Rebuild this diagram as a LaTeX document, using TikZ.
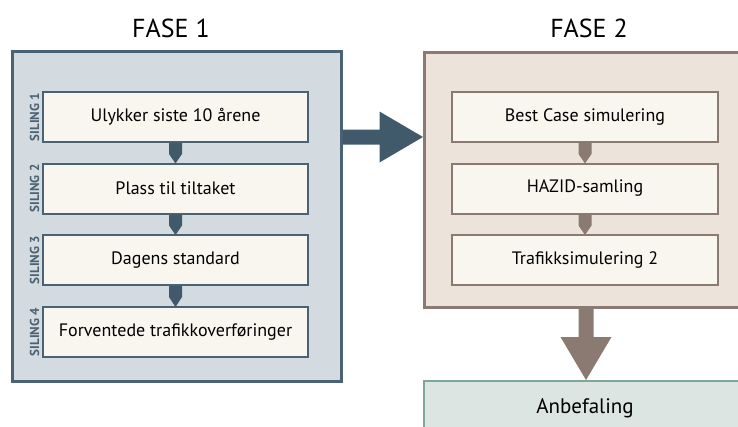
\documentclass[tikz,border=0pt]{standalone}
\usepackage{fontspec}
\setmainfont{PT Sans}
\definecolor{slateline}{HTML}{4A6274}
\definecolor{slatefill}{HTML}{D3DBE0}
\definecolor{slatearrow}{HTML}{405A6B}
\definecolor{stepfill}{HTML}{F8F6EF}
\definecolor{brownline}{HTML}{8A7A72}
\definecolor{brownfill}{HTML}{ECE4DA}
\definecolor{tealline}{HTML}{80A69B}
\definecolor{tealfill}{HTML}{DCE5E1}
\begin{document}
\begin{tikzpicture}[x=1pt,y=-1pt,
  phasebox/.style={line width=3pt},
  stepbox/.style={draw, line width=2pt, fill=stepfill, minimum width=265pt,
    minimum height=50pt, inner sep=0pt, font=\fontsize{18}{20}\selectfont},
  sidelabel/.style={rotate=90, text=slateline, inner sep=0pt,
    font=\fontsize{13}{14}\selectfont\bfseries},
  title/.style={font=\fontsize{26}{28}\selectfont, inner sep=0pt}
]
\useasboundingbox (0,0) rectangle (738,426);

% phase frames
\draw[phasebox, draw=slateline, fill=slatefill] (12.5,51) rectangle (341,381);
\draw[phasebox, draw=brownline, fill=brownfill] (424,52) rectangle (745,307);
\draw[line width=2.5pt, draw=tealline, fill=tealfill] (424,381) rectangle (745,440);

% headings
\node[title] (t1) at (171,28) {FASE 1};
\node[title] (t2) at (589,28) {FASE 2};

% phase 1 steps
\node[stepbox, draw=slateline] (a1) at (175.5,117) {Ulykker siste 10 årene};
\node[stepbox, draw=slateline] (a2) at (175.5,188.5) {Plass til tiltaket};
\node[stepbox, draw=slateline] (a3) at (175.5,260) {Dagens standard};
\node[stepbox, draw=slateline] (a4) at (175.5,332) {Forventede trafikkoverføringer};

\node[sidelabel] (s1) at (34.5,117) {SILING 1};
\node[sidelabel] (s2) at (34.5,188.5) {SILING 2};
\node[sidelabel] (s3) at (34.5,260) {SILING 3};
\node[sidelabel] (s4) at (34.5,332) {SILING 4};

% phase 2 steps
\node[stepbox, draw=brownline, minimum width=266pt] (b1) at (585,117) {Best Case simulering};
\node[stepbox, draw=brownline, minimum width=266pt] (b2) at (585,188.5) {HAZID-samling};
\node[stepbox, draw=brownline, minimum width=266pt] (b3) at (585,260) {Trafikksimulering 2};

\node[font=\fontsize{21}{23}\selectfont, inner sep=0pt] (rec) at (585,408) {Anbefaling};

% small pointed connectors between steps (yshift is in page units: negative = down)
\foreach \u/\l/\c in {a1/a2/slatearrow, a2/a3/slatearrow, a3/a4/slatearrow,
                      b1/b2/brownline, b2/b3/brownline}{
  \fill[\c] ([xshift=-6.5pt]\u.south) -- ([xshift=6.5pt]\u.south)
    -- ([xshift=6.5pt,yshift=-11pt]\u.south)
    -- ([yshift=-1pt]\l.north)
    -- ([xshift=-6.5pt,yshift=-11pt]\u.south) -- cycle;
}

% block arrows between phases
\coordinate (p1e) at (342.5,137);
\coordinate (p2w) at (423,137);
\fill[slatearrow] ([yshift=-7.5pt]p1e) -- ([xshift=37pt,yshift=-7.5pt]p1e)
  -- ([xshift=37pt,yshift=-25.5pt]p1e) -- (p2w)
  -- ([xshift=37pt,yshift=25.5pt]p1e) -- ([xshift=37pt,yshift=7.5pt]p1e)
  -- ([yshift=7.5pt]p1e) -- cycle;

\coordinate (p2s) at (586,308.5);
\fill[brownline] ([xshift=-7.5pt]p2s) -- ([xshift=7.5pt]p2s)
  -- ([xshift=7.5pt,yshift=-28.5pt]p2s) -- ([xshift=25.5pt,yshift=-28.5pt]p2s)
  -- ([yshift=-71.5pt]p2s)
  -- ([xshift=-25.5pt,yshift=-28.5pt]p2s) -- ([xshift=-7.5pt,yshift=-28.5pt]p2s) -- cycle;
\end{tikzpicture}
\end{document}
